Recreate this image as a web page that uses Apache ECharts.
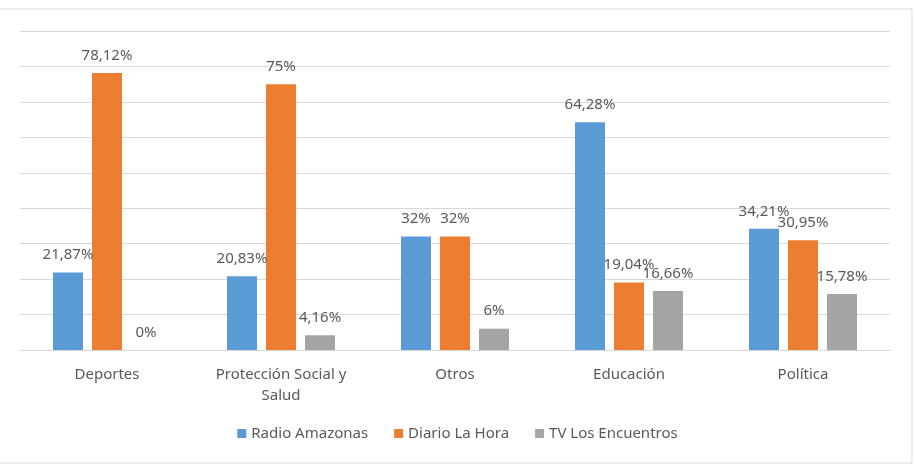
<!DOCTYPE html>
<html>
<head>
<meta charset="utf-8">
<script src="https://cdn.jsdelivr.net/npm/echarts@6/dist/echarts.min.js"></script>
<style>
  html, body { margin: 0; padding: 0; background: #fff; }
  #chart { width: 915px; height: 476px; }
</style>
</head>
<body>
<div id="chart"></div>
<script>
const categorias = ['Deportes', 'Protección Social y\nSalud', 'Otros', 'Educación', 'Política'];
const radioAmazonas = [21.87, 20.83, 32, 64.28, 34.21];
const diarioLaHora = [78.12, 75, 32, 19.04, 30.95];
const tvEncuentros = [0, 4.16, 6, 16.66, 15.78];

const fuente = 'Noto Sans';
const gris = '#595959';

function etiqueta(p) {
    return String(p.value).replace('.', ',') + '%';
}

function serie(nombre, datos, color) {
    return {
        name: nombre,
        type: 'bar',
        data: datos,
        barWidth: 30,
        barGap: '30%',
        itemStyle: {color: color},
        label: {
            show: true,
            position: 'top',
            distance: 10,
            formatter: etiqueta,
            color: gris,
            fontFamily: fuente,
            fontSize: 15
        }
    };
}

const chart = echarts.init(document.getElementById('chart'));
chart.setOption({
    animation: false,
    backgroundColor: '#fff',
    graphic: [{
        type: 'rect',
        shape: {x: -1, y: 9, width: 913, height: 454},
        style: {fill: 'none', stroke: '#D9D9D9', lineWidth: 1},
        silent: true
    }],
    grid: {left: 20, right: 25, top: 31, bottom: 126},
    legend: {
        bottom: 30,
        left: 'center',
        itemWidth: 9,
        itemHeight: 9,
        itemGap: 26,
        icon: 'rect',
        textStyle: {color: gris, fontFamily: fuente, fontSize: 15},
        data: ['Radio Amazonas', 'Diario La Hora', 'TV Los Encuentros']
    },
    xAxis: {
        type: 'category',
        data: categorias,
        axisLine: {lineStyle: {color: '#D9D9D9'}},
        axisTick: {show: false},
        axisLabel: {color: gris, fontFamily: fuente, fontSize: 15, margin: 14, lineHeight: 21}
    },
    yAxis: {
        type: 'value',
        min: 0,
        max: 90,
        interval: 10,
        axisLabel: {show: false},
        axisLine: {show: false},
        axisTick: {show: false},
        splitLine: {lineStyle: {color: '#D9D9D9'}}
    },
    series: [
        serie('Radio Amazonas', radioAmazonas, '#5B9BD5'),
        serie('Diario La Hora', diarioLaHora, '#ED7D31'),
        serie('TV Los Encuentros', tvEncuentros, '#A5A5A5')
    ]
});
</script>
</body>
</html>
